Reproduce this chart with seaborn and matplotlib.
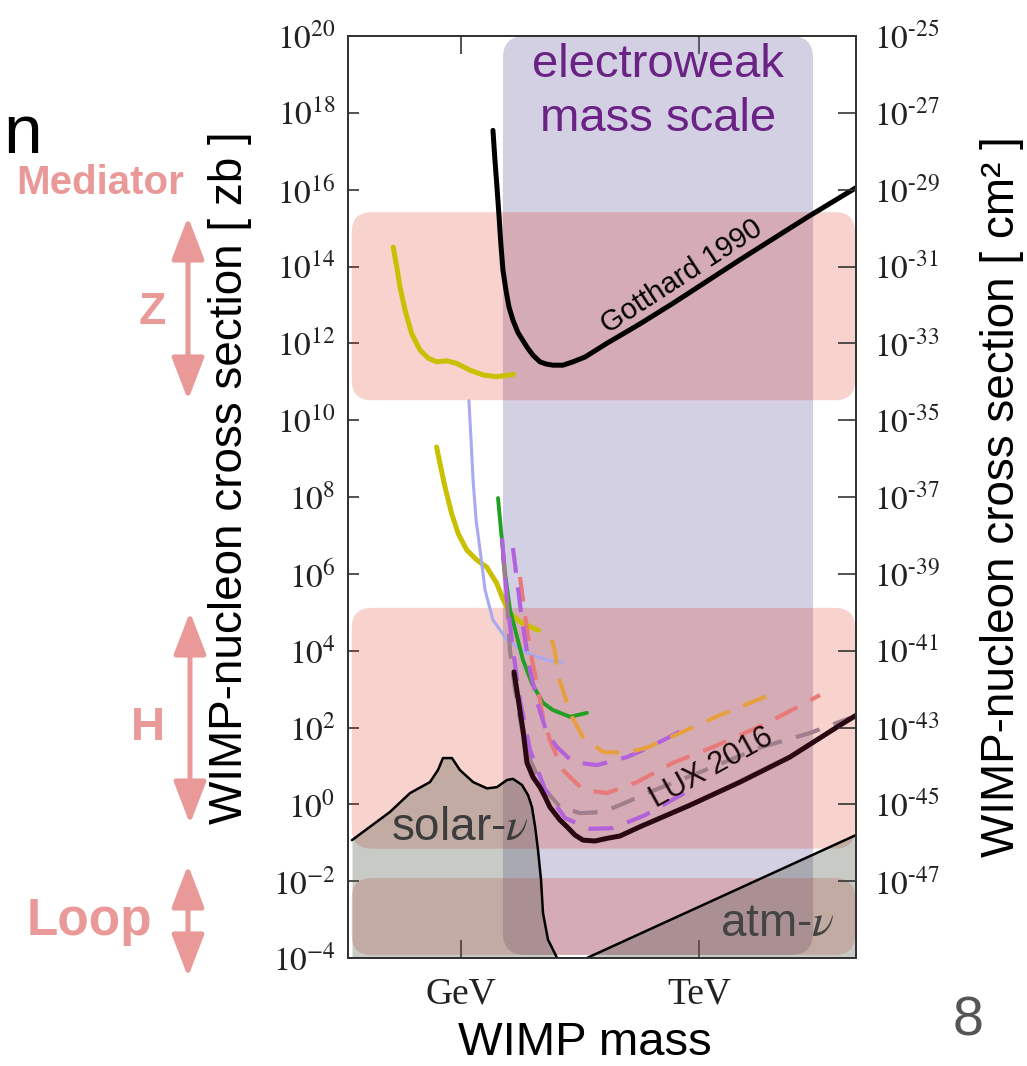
import matplotlib
matplotlib.use("Agg")
import matplotlib.pyplot as plt
import seaborn as sns
from matplotlib.patches import FancyBboxPatch, FancyArrowPatch
from matplotlib.transforms import IdentityTransform
from matplotlib.ticker import FixedLocator, FixedFormatter, NullLocator

# ---------------------------------------------------------------
# Values (mass in GeV, cross section in zb)
# ---------------------------------------------------------------
gotthard_mass = [2.53, 2.68, 2.84, 3.01, 3.19, 3.38, 3.69, 4.03, 4.52, 5.23, 6.79, 8.09, 9.9,
                 11.8, 14.4, 19.3, 25.8, 36.6, 69, 180, 470, 3290, 23000, 107000]
gotthard_xs = [3.5e17, 5.9e16, 1.2e16, 2.2e15, 3.6e14, 8.1e13, 2.4e13, 8.8e12, 4.0e12, 1.9e12,
               8.0e11, 4.9e11, 3.3e11, 2.9e11, 2.7e11, 2.7e11, 3.3e11, 4.4e11, 1.0e12, 3.2e12,
               1.1e13, 1.5e14, 1.9e15, 1.3e16]

yellow_hi_mass = [0.140, 0.155, 0.170, 0.197, 0.239, 0.304, 0.387, 0.493, 0.660, 0.883, 1.30, 1.91, 2.82, 4.56]
yellow_hi_xs = [3.2e14, 9.8e13, 3.0e13, 7.4e12, 1.8e12, 6.7e11, 4.1e11, 3.3e11, 3.5e11, 3.0e11,
                2.0e11, 1.5e11, 1.35e11, 1.55e11]

yellow_lo_mass = [0.493, 0.543, 0.628, 0.763, 0.925, 1.18, 1.58, 2.11, 2.82, 3.41, 4.15, 5.54, 7.41, 9.44]
yellow_lo_xs = [2.0e9, 7.5e8, 1.85e8, 3.7e7, 1.1e7, 4.2e6, 2.3e6, 1.5e6, 5.7e5, 2.1e5, 9.4e4,
                5.7e4, 4.2e4, 3.4e4]

blue_mass = [1.26, 1.34, 1.42, 1.55, 1.74, 2.01, 2.53, 3.80, 6.79, 12.1, 18.8]
blue_xs = [3.2e10, 3.0e9, 2.8e8, 2.5e7, 4.2e6, 3.8e5, 6.3e4, 1.9e4, 8.7e3, 5.7e3, 5.0e3]

green_mass = [2.93, 3.19, 3.59, 4.15, 5.08, 6.05, 7.85, 10.8, 14.4, 23.7, 38.7]
green_xs = [9.4e7, 1.4e7, 1.05e6, 1.15e5, 2.3e4, 5.7e3, 1.4e3, 440, 285, 190, 240]

lux_mass = [4.66, 6.05, 6.79, 8.09, 9.9, 11.5, 13.2, 17.7, 21.7, 27.4, 34.5, 48.9, 69, 101,
            180, 770, 3290, 14000, 60000, 107000]
lux_xs = [2.8e3, 85, 12, 5.1, 2.8, 1.55, 0.85, 0.39, 0.26, 0.158, 0.117, 0.111, 0.13, 0.15,
          0.26, 0.95, 3.8, 17, 115, 240]

orange_mass = [14.0, 15.3, 16.7, 20.5, 25.1, 34.5, 62, 124, 221, 577, 1840, 9620]
orange_xs = [1.9e4, 9.2e3, 2.3e3, 620, 190, 56, 23, 22, 30, 72, 210, 840]

purple_hi_mass = [4.52, 5.08, 5.87, 7.41, 9.35, 12.1, 16.2, 25.8, 51.8, 124, 241, 706]
purple_hi_xs = [4.7e6, 6.9e5, 6.3e4, 3.1e3, 390, 72, 31, 12.6, 10.5, 17, 31, 98]

salmon_mass = [5.54, 6.79, 7.85, 9.08, 10.8, 13.2, 19.3, 34.5, 69, 166, 470, 1500, 7200, 33500]
salmon_xs = [8.3e5, 3.5e4, 5.7e3, 1.4e3, 190, 47, 7.8, 2.4, 1.96, 3.8, 12, 31, 130, 700]

mauve_mass = [3.38, 3.80, 4.15, 4.80, 5.87, 7.62, 10.8, 17.7, 31.6, 62, 124, 221, 1030, 5880, 25100, 80200]
mauve_xs = [3.1e6, 2.1e5, 1.0e4, 950, 85, 12.6, 2.8, 0.85, 0.59, 0.63, 1.15, 1.96, 6.9, 30, 72, 177]

purple_lo_mass = [3.29, 3.80, 4.52, 5.54, 7.41, 11.5, 20.5, 42.3, 82, 208, 944]
purple_lo_xs = [8.5e6, 2.1e5, 1.05e4, 520, 26, 2.4, 0.44, 0.23, 0.24, 0.52, 3.0]

solar_mass = [0.0423, 0.127, 0.228, 0.407, 0.513, 0.593, 0.77, 0.97, 1.42, 2.13, 2.84,
              3.80, 4.52, 5.87, 7.0, 7.85, 8.6, 9.35, 10.2, 10.8, 12.5, 16.7]
solar_xs = [0.117, 0.63, 1.96, 3.8, 7.8, 16, 16, 7.8, 3.8, 2.6, 2.8,
            4.3, 4.6, 3.2, 1.74, 0.85, 0.26, 0.065, 0.011, 1.5e-3, 3.0e-4, 9e-5]

atm_mass = [38.7, 1.0e5]
atm_xs = [1.0e-4, 0.166]

# shaded regions
ew_mass = [3.38, 27400]
band_mass = [0.042, 92700]
ew_xs = [1.2e-4, 1e20]
z_xs = [3.3e10, 2.6e15]
h_xs = [0.07, 1.3e5]
loop_xs = [1.2e-4, 0.012]

# axis ticks
x_ticks = [1, 1000]
x_labels = ["GeV", "TeV"]
left_exps = list(range(-4, 21, 2))
right_exps = list(range(-49, -24, 2))

PINK = "#ea9999"
W, H = 1027, 1066

# --------------------------------------------
# Figure
# --------------------------------------------
sns.set_theme(style="white")
plt.rcParams["font.family"] = ["Liberation Sans", "DejaVu Sans"]
plt.rcParams["mathtext.fontset"] = "stix"

fig = plt.figure(figsize=(W / 100, H / 100), dpi=100)
ax = fig.add_axes([348 / W, 1 - 958 / H, 508 / W, 922 / H])
ax.set_xscale("log")
ax.set_yscale("log")
ax.set_xlim(10 ** -1.424, 10 ** 4.979)
ax.set_ylim(1e-4, 1e20)


def rounded_band(x0, x1, y0, y1, color, alpha, radius, zorder):
    (px0, py0), (px1, py1) = ax.transData.transform([(x0, y0), (x1, y1)])
    box = FancyBboxPatch((px0, py0), px1 - px0, py1 - py0,
                         boxstyle=f"round,pad=0,rounding_size={radius}",
                         transform=IdentityTransform(), facecolor=color,
                         edgecolor="none", alpha=alpha, zorder=zorder)
    ax.add_patch(box)


# electroweak band and mediator bands
rounded_band(ew_mass[0], ew_mass[1], ew_xs[0], ew_xs[1], "#7366a8", 0.3, 22, 1)
for lo, hi in [z_xs, h_xs, loop_xs]:
    rounded_band(band_mass[0], band_mass[1], lo, hi, "#dc1e00", 0.2, 20, 2)

# neutrino floor
ax.fill_between(solar_mass, solar_xs, 1e-6, color="#485241", alpha=0.3, lw=0, zorder=3)
ax.fill_between(atm_mass, atm_xs, 1e-6, color="#485241", alpha=0.3, lw=0, zorder=3)
sns.lineplot(x=solar_mass, y=solar_xs, ax=ax, color="black", lw=1.8, sort=False, estimator=None, zorder=4)
sns.lineplot(x=atm_mass, y=atm_xs, ax=ax, color="black", lw=1.8, sort=False, estimator=None, zorder=4)

# limit curves
solid = [
    (gotthard_mass, gotthard_xs, "black", 3.6),
    (yellow_hi_mass, yellow_hi_xs, "#c8c000", 3.6),
    (yellow_lo_mass, yellow_lo_xs, "#c8c000", 3.6),
    (blue_mass, blue_xs, "#a9a9f2", 2.2),
    (green_mass, green_xs, "#22a022", 2.8),
]
for m, s, c, lw in solid:
    sns.lineplot(x=m, y=s, ax=ax, color=c, lw=lw, sort=False, estimator=None, zorder=5)

dashed = [
    (mauve_mass, mauve_xs, "#a07e8c"),
    (purple_lo_mass, purple_lo_xs, "#b462dc"),
    (salmon_mass, salmon_xs, "#e87a7a"),
    (purple_hi_mass, purple_hi_xs, "#b462dc"),
    (orange_mass, orange_xs, "#e6a040"),
]
for m, s, c in dashed:
    sns.lineplot(x=m, y=s, ax=ax, color=c, lw=3.0, sort=False, estimator=None,
                 linestyle=(0, (6, 3.5)), zorder=5)

sns.lineplot(x=lux_mass, y=lux_xs, ax=ax, color="#2a0812", lw=3.6, sort=False, estimator=None, zorder=6)

# labels inside the plot
ax.text(304, 3.5e18, "electroweak\nmass scale", color="#6a2284", fontsize=34,
        ha="center", va="center", linespacing=1.3, zorder=7)
ax.text(611, 5.6e13, "Gotthard 1990", fontsize=21, rotation=33, rotation_mode="anchor",
        ha="center", va="center", color="black", zorder=7)
ax.text(1460, 8.9, "LUX 2016", fontsize=22, rotation=29, rotation_mode="anchor",
        ha="center", va="center", color="#1a0a0a", zorder=7)
ax.text(0.97, 0.24, r"solar-$\nu$", fontsize=33, ha="center", va="center", color="#3c3c3c", zorder=7)
ax.text(9620, 7.7e-4, r"atm-$\nu$", fontsize=33, ha="center", va="center", color="#444444", zorder=7)

# axes styling
ax.set_xlabel("")
ax.set_ylabel("")
ax.xaxis.set_major_locator(FixedLocator(x_ticks))
ax.xaxis.set_major_formatter(FixedFormatter(x_labels))
ax.xaxis.set_minor_locator(NullLocator())
ax.yaxis.set_major_locator(FixedLocator([10.0 ** e for e in left_exps]))
ax.yaxis.set_major_formatter(FixedFormatter([f"$10^{{{e}}}$" for e in left_exps]))
ax.yaxis.set_minor_locator(NullLocator())
ax.tick_params(axis="x", direction="in", length=13, width=1.2, top=True, bottom=True,
               labelsize=27, pad=14, colors="#333333", labelcolor="#222222")
ax.tick_params(axis="y", direction="in", length=8, width=1.2, left=True, right=False,
               labelsize=24, pad=9, colors="#333333", labelcolor="#222222")
for lab in ax.get_xticklabels():
    lab.set_fontfamily("Liberation Serif")
for sp in ax.spines.values():
    sp.set_linewidth(1.4)
    sp.set_color("#333333")

ax2 = ax.twinx()
ax2.set_yscale("log")
ax2.set_ylim(1e-49, 1e-25)
ax2.yaxis.set_major_locator(FixedLocator([10.0 ** e for e in right_exps]))
ax2.yaxis.set_major_formatter(FixedFormatter(
    ["" if e == -49 else f"$10^{{\u2010{abs(e)}}}$" for e in right_exps]))
ax2.yaxis.set_minor_locator(NullLocator())
ax2.tick_params(axis="y", direction="in", length=13, width=1.2, labelsize=24, pad=13,
                colors="#333333", labelcolor="#222222")
for sp in ax2.spines.values():
    sp.set_linewidth(1.4)
    sp.set_color("#333333")

# --------------------------------------------
# Figure-level text and arrows (pixel positions)
# --------------------------------------------
def fx(x):
    return x / W


def fy(y):
    return 1 - y / H


fig.text(fx(230), fy(478), "WIMP-nucleon cross section [ zb ]", rotation=90,
         fontsize=33, ha="center", va="center", color="black")
fig.text(fx(1002), fy(497), "WIMP-nucleon cross section [ cm² ]", rotation=90,
         fontsize=33, ha="center", va="center", color="black")
fig.text(fx(585), fy(1043), "WIMP mass", fontsize=34, ha="center", va="center", color="black")

fig.text(fx(3), fy(153), "n", fontsize=50, ha="left", va="baseline", color="black")
fig.text(fx(100), fy(183), "Mediator", fontsize=29, fontweight="bold", ha="center", va="center", color=PINK)
fig.text(fx(152), fy(312), "Z", fontsize=32, fontweight="bold", ha="center", va="center", color=PINK)
fig.text(fx(148), fy(728), "H", fontsize=34, fontweight="bold", ha="center", va="center", color=PINK)
fig.text(fx(89), fy(935), "Loop", fontsize=37, fontweight="bold", ha="center", va="baseline", color=PINK)
fig.text(fx(968), fy(1022), "8", fontsize=40, ha="center", va="center", color="#555555")

for x, y0, y1 in [(188, 217, 400), (190, 612, 824), (188, 865, 977)]:
    arrow = FancyArrowPatch((fx(x), fy(y0)), (fx(x), fy(y1)), transform=fig.transFigure,
                            arrowstyle="<|-|>,head_length=26,head_width=10", mutation_scale=1,
                            lw=3.6, color=PINK, shrinkA=0, shrinkB=0)
    fig.add_artist(arrow)

fig.savefig("out.png", dpi=100)
